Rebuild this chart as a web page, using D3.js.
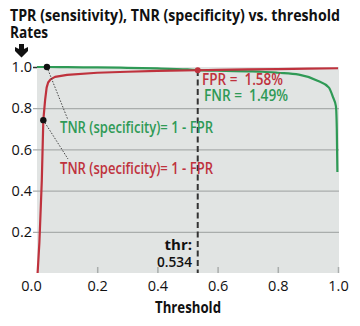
<!DOCTYPE html>
<html>
<head>
<meta charset="utf-8">
<script src="https://cdn.jsdelivr.net/npm/d3@7"></script>
<style>
  html, body { margin: 0; padding: 0; background: #fff; }
  svg { display: block; font-family: "Open Sans", "Noto Sans", sans-serif; }
</style>
</head>
<body>
<svg id="chart" width="360" height="326"></svg>
<script>
// Threshold sweep: x = decision threshold, y = rate
const tnrGreenX = [0.0, 0.033, 0.1, 0.2, 0.3, 0.4, 0.5, 0.534, 0.6, 0.7, 0.75, 0.8, 0.87, 0.93, 0.97, 0.983, 0.993, 0.996, 0.998];
const tnrGreenY = [1.0, 1.0, 0.999, 0.998, 0.996, 0.993, 0.988, 0.9851, 0.982, 0.979, 0.977, 0.972, 0.963, 0.935, 0.9, 0.855, 0.81, 0.7, 0.49];

const tnrRedX = [0.002, 0.004, 0.008, 0.012, 0.016, 0.021, 0.027, 0.032, 0.037, 0.045, 0.06, 0.1, 0.2, 0.3, 0.4, 0.534, 0.6, 0.7, 0.8, 0.9, 1.0];
const tnrRedY = [0.0, 0.05, 0.15, 0.3, 0.45, 0.742, 0.84, 0.9, 0.925, 0.94, 0.952, 0.962, 0.972, 0.977, 0.981, 0.9842, 0.986, 0.988, 0.99, 0.992, 0.994];

const thresholdValue = 0.534;
const fprText = "FPR =  1.58%";
const fnrText = "FNR =  1.49%";
const yTicks = [0.2, 0.4, 0.6, 0.8, 1.0];
const xTicks = [0.0, 0.2, 0.4, 0.6, 0.8, 1.0];
const greenDot = [0.033, 1.0];
const redDot = [0.021, 0.742];

const RED = "#bf323d";
const GREEN = "#2f9a56";

const svg = d3.select("#chart");
const x = d3.scaleLinear().domain([0, 1]).range([37, 338]);
const y = d3.scaleLinear().domain([0, 1]).range([273, 67]);

// Title block
svg.append("text").attr("x", 10).attr("y", 21)
  .attr("font-size", 16.5).attr("font-weight", 700).attr("fill", "#111")
  .attr("textLength", 330).attr("lengthAdjust", "spacingAndGlyphs")
  .text("TPR (sensitivity), TNR (specificity) vs. threshold");
svg.append("text").attr("x", 10).attr("y", 38)
  .attr("font-size", 16.5).attr("font-weight", 700).attr("fill", "#111")
  .attr("textLength", 38).attr("lengthAdjust", "spacingAndGlyphs")
  .text("Rates");

// Down arrow marker under the y label
svg.append("path")
  .attr("d", "M19,44 L24,44 L24,49 L28,47 L28,51 L21.5,57.5 L15,51 L15,47 L19,49 Z")
  .attr("fill", "#111");

// Plot background
svg.append("rect")
  .attr("x", x(0)).attr("y", y(1))
  .attr("width", x(1) - x(0) + 1).attr("height", y(0) - y(1))
  .attr("fill", "#e1e4e3");

// Horizontal grid + left ticks
const yAxis = d3.axisLeft(y).tickValues(yTicks).tickSize(0).tickFormat(d3.format(".1f"));
const gy = svg.append("g").attr("transform", `translate(${x(0) - 4},0)`).call(yAxis);
gy.select(".domain").remove();
gy.selectAll(".tick text")
  .attr("x", -1).attr("font-size", 14.5).attr("font-weight", 500).attr("fill", "#111")
  .attr("font-family", "'Open Sans', sans-serif");
gy.selectAll(".tick line")
  .attr("x1", 0)
  .attr("x2", d => d === 1 ? 4 : x(1) - x(0) + 5)
  .attr("stroke", d => d === 1 ? "#333" : "#a9adac")
  .attr("stroke-width", d => d === 1 ? 1.5 : 1.2);

// Bottom ticks (drawn inside the plot)
const xAxis = d3.axisBottom(x).tickValues(xTicks).tickSize(0).tickFormat(d3.format(".1f"));
const gx = svg.append("g").attr("transform", `translate(0,${y(0)})`).call(xAxis);
gx.select(".domain").remove();
gx.selectAll(".tick line")
  .attr("y1", -6).attr("y2", 0)
  .attr("stroke", d => d === 0 ? "none" : "#a9adac").attr("stroke-width", 1.5);
gx.selectAll(".tick text")
  .attr("y", 8).attr("dy", "0.71em")
  .attr("x", d => d === 0 ? -6 : 0)
  .attr("font-size", 14.5).attr("font-weight", 500).attr("fill", "#111")
  .attr("font-family", "'Open Sans', sans-serif");

svg.append("text").attr("x", 188).attr("y", 313)
  .attr("text-anchor", "middle")
  .attr("font-size", 15.5).attr("font-weight", 700).attr("fill", "#111")
  .attr("textLength", 66).attr("lengthAdjust", "spacingAndGlyphs")
  .text("Threshold");

// Curves
const line = d3.line().x(d => x(d[0])).y(d => y(d[1])).curve(d3.curveMonotoneX);
svg.append("path")
  .datum(d3.zip(tnrGreenX, tnrGreenY))
  .attr("d", line).attr("fill", "none")
  .attr("stroke", GREEN).attr("stroke-width", 2.2);
svg.append("path")
  .datum(d3.zip(tnrRedX, tnrRedY))
  .attr("d", d3.line().x(d => x(d[0])).y(d => y(d[1])))
  .attr("fill", "none")
  .attr("stroke", RED).attr("stroke-width", 2.2).attr("stroke-linejoin", "round");

// Threshold marker
svg.append("line")
  .attr("x1", x(thresholdValue)).attr("x2", x(thresholdValue))
  .attr("y1", y(0.985)).attr("y2", y(0))
  .attr("stroke", "#333").attr("stroke-width", 2)
  .attr("stroke-dasharray", "6,3.5");
svg.append("circle")
  .attr("cx", x(thresholdValue)).attr("cy", y(0.9842)).attr("r", 3)
  .attr("fill", RED);

svg.append("text").attr("x", 202).attr("y", 85)
  .attr("font-size", 16).attr("font-weight", 600).attr("fill", RED)
  .attr("textLength", 81).attr("lengthAdjust", "spacingAndGlyphs")
  .attr("xml:space", "preserve")
  .text(fprText);
svg.append("text").attr("x", 204).attr("y", 101)
  .attr("font-size", 16).attr("font-weight", 600).attr("fill", GREEN)
  .attr("textLength", 84).attr("lengthAdjust", "spacingAndGlyphs")
  .attr("xml:space", "preserve")
  .text(fnrText);

svg.append("text").attr("x", 192).attr("y", 250)
  .attr("text-anchor", "end")
  .attr("font-size", 15).attr("font-weight", 700).attr("fill", "#111")
  .text("thr:");
svg.append("text").attr("x", 192).attr("y", 267)
  .attr("text-anchor", "end")
  .attr("font-size", 15).attr("font-weight", 600).attr("fill", "#111")
  .attr("textLength", 35).attr("lengthAdjust", "spacingAndGlyphs")
  .text(thresholdValue.toFixed(3));

// Callouts
svg.append("line")
  .attr("x1", x(greenDot[0])).attr("y1", y(greenDot[1]))
  .attr("x2", 68).attr("y2", 120)
  .attr("stroke", "#444").attr("stroke-width", 1).attr("stroke-dasharray", "1.5,1.5");
svg.append("line")
  .attr("x1", x(redDot[0])).attr("y1", y(redDot[1]))
  .attr("x2", 68).attr("y2", 159)
  .attr("stroke", "#444").attr("stroke-width", 1).attr("stroke-dasharray", "1.5,1.5");
svg.append("circle").attr("cx", x(greenDot[0])).attr("cy", y(greenDot[1])).attr("r", 3.2).attr("fill", "#111");
svg.append("circle").attr("cx", x(redDot[0])).attr("cy", y(redDot[1])).attr("r", 3.2).attr("fill", "#111");

svg.append("text").attr("x", 60).attr("y", 133)
  .attr("font-size", 16.5).attr("font-weight", 600).attr("fill", GREEN)
  .attr("textLength", 153).attr("lengthAdjust", "spacingAndGlyphs")
  .text("TNR (specificity)= 1 - FPR");
svg.append("text").attr("x", 60).attr("y", 174)
  .attr("font-size", 16.5).attr("font-weight", 600).attr("fill", RED)
  .attr("textLength", 153).attr("lengthAdjust", "spacingAndGlyphs")
  .text("TNR (specificity)= 1 - FPR");
</script>
</body>
</html>
